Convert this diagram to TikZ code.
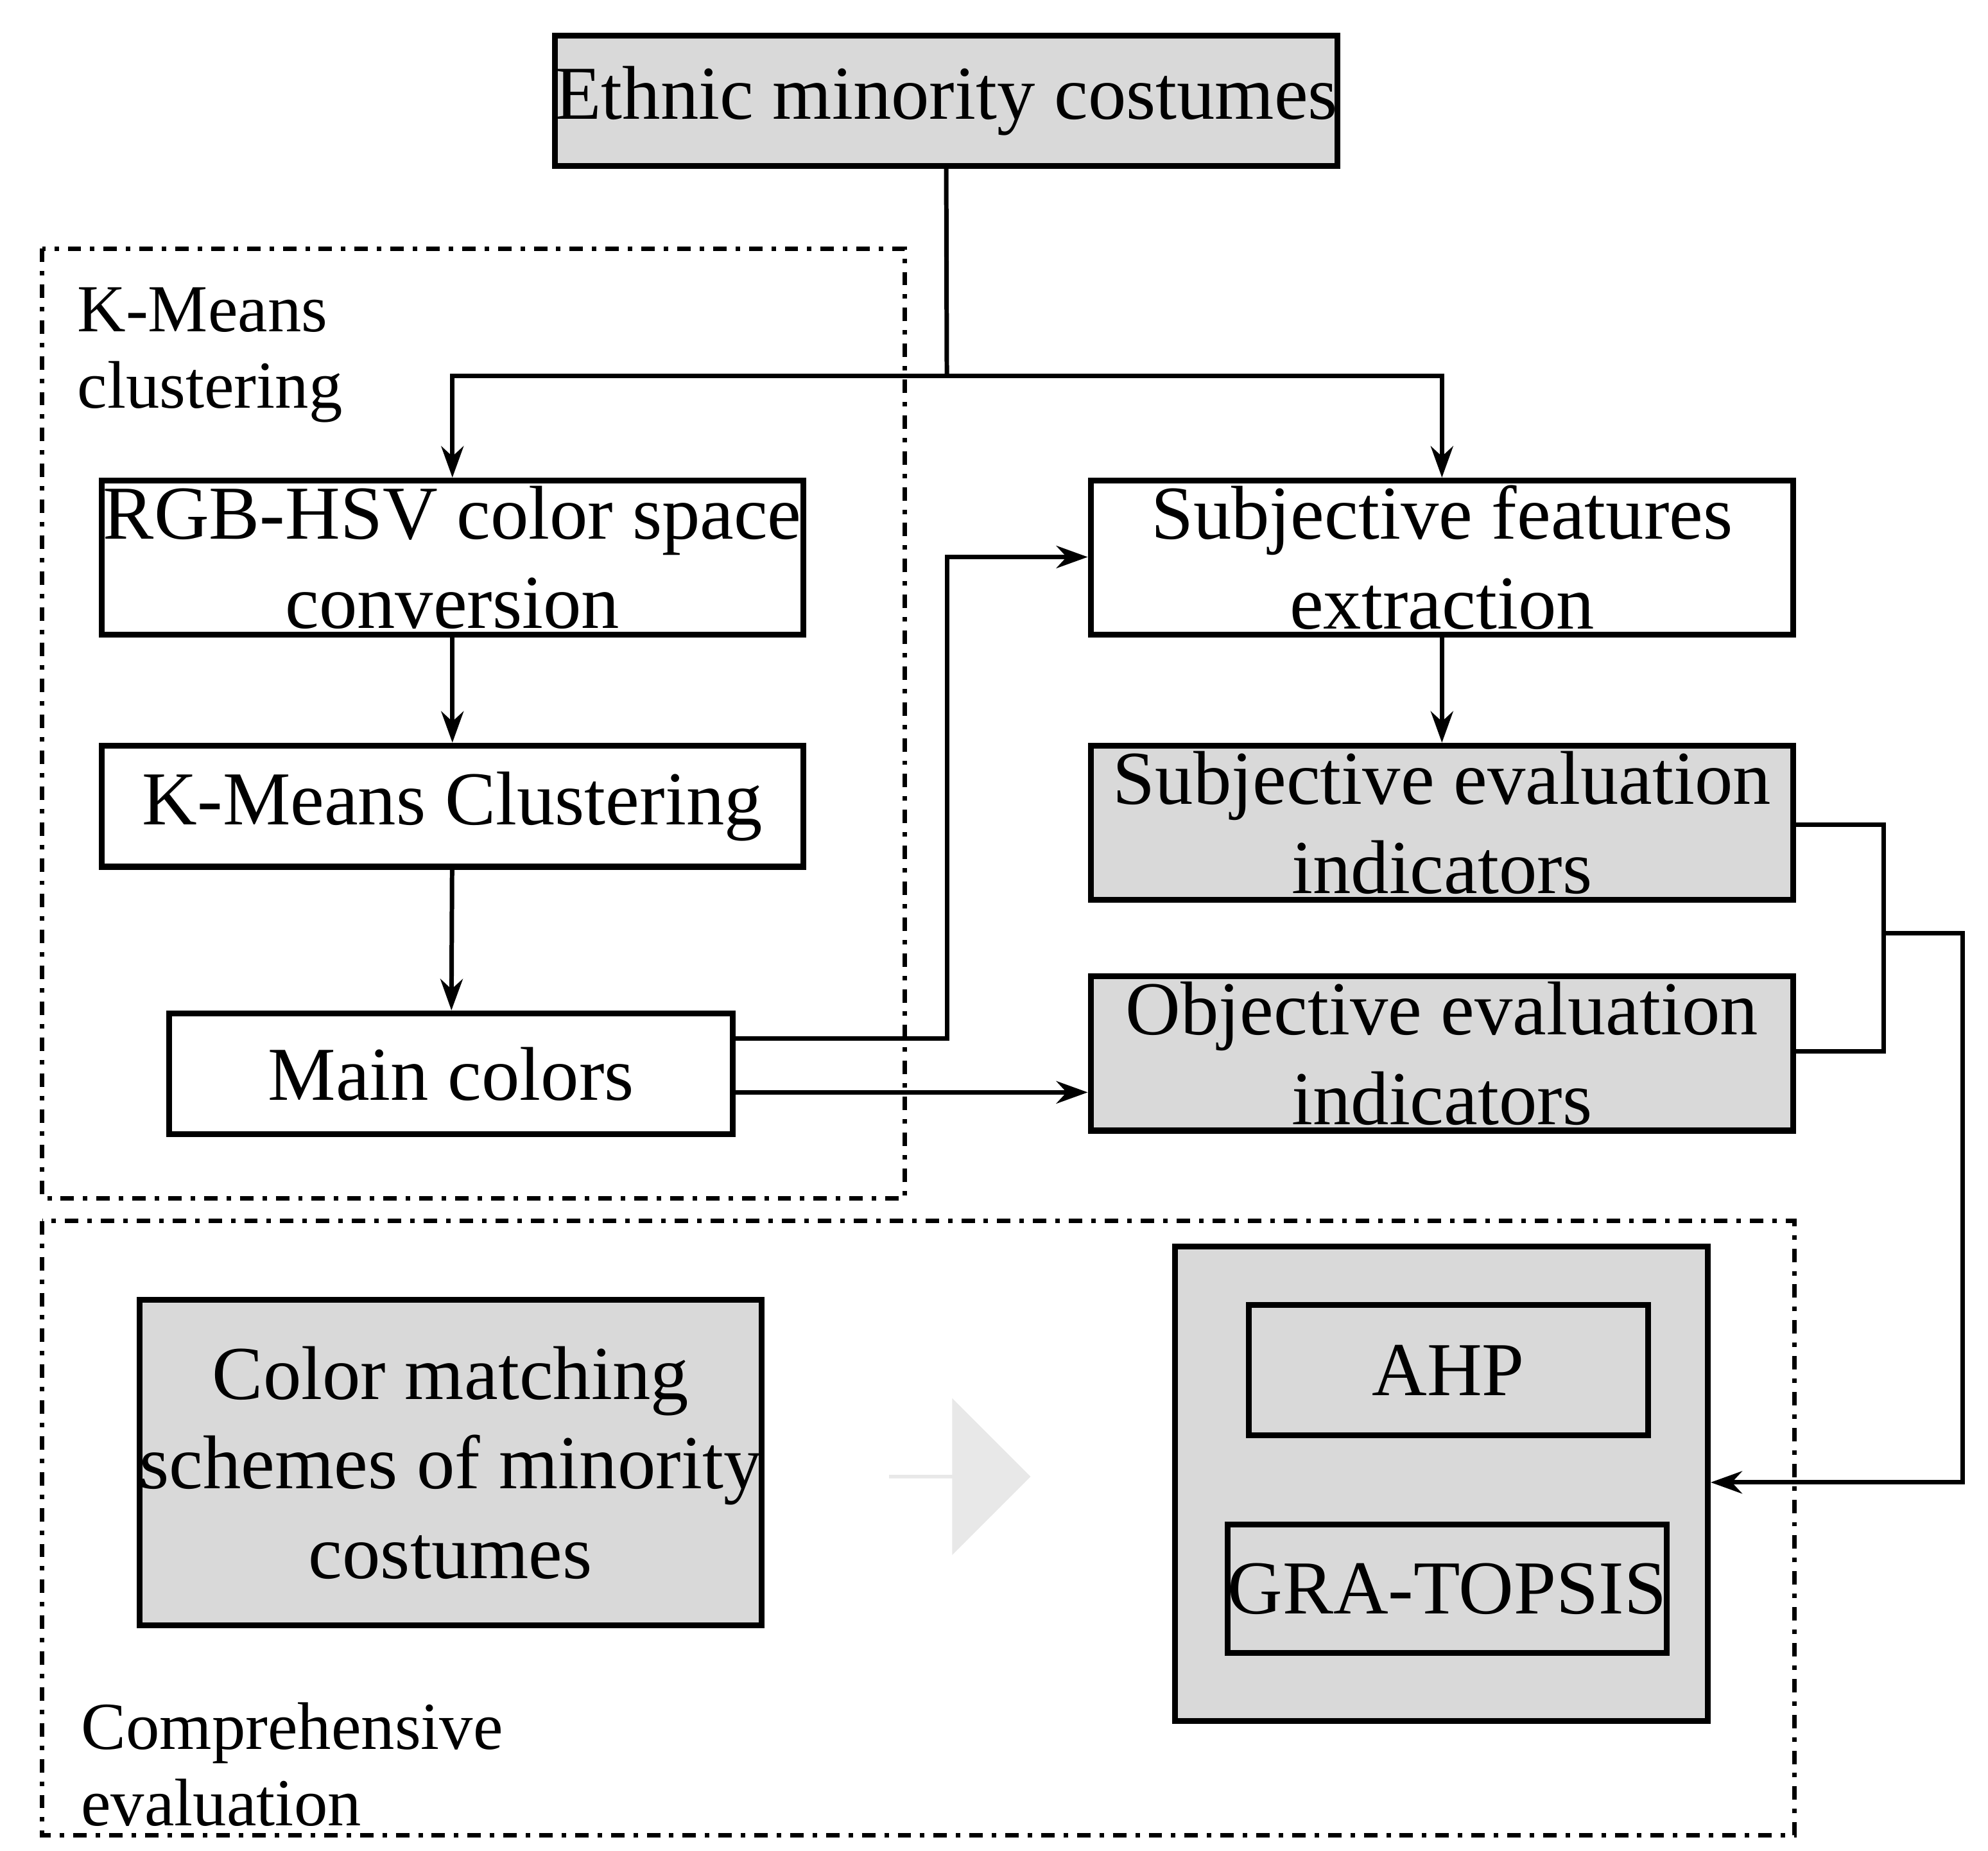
\documentclass[tikz,border=0pt]{standalone}
\usepackage{fontspec}
\setmainfont{Liberation Serif}
\usetikzlibrary{arrows.meta,shapes.arrows}
\begin{document}
\begin{tikzpicture}[x=0.01cm,y=-0.01cm,
  box/.style={draw,line width=1.3pt,inner sep=0pt,align=center,font=\fontsize{17}{20}\selectfont},
  g/.style={fill=gray!30},
  frame/.style={draw,line width=1pt,dash dot},
  lab/.style={anchor=north west,align=left,font=\fontsize{15}{17}\selectfont,inner sep=0pt},
  conn/.style={line width=1pt},
  arr/.style={conn,-{Stealth[length=7pt,width=5pt]}}]
\useasboundingbox (0,0) rectangle (1560,1452);
\draw[frame] (33,195) rectangle (710,940);
\draw[frame] (33,958) rectangle (1408,1440);
\node[lab] (l1) at (60,225) {K-Means\\clustering};
\node[lab] (l2) at (63,1335) {Comprehensive\\evaluation};
\node[box,g,minimum width=551\pgflinewidth*0+5.51cm,minimum height=1.02cm] (top) at (742.5,79) {Ethnic minority costumes};
\node[box,minimum width=5.5cm,minimum height=1.21cm] (rgb) at (355,437.5) {RGB-HSV color space\\conversion};
\node[box,minimum width=5.5cm,minimum height=0.95cm] (km) at (355,632.5) {K-Means Clustering};
\node[box,minimum width=4.42cm,minimum height=0.95cm] (mc) at (354,842.5) {Main colors};
\node[box,minimum width=5.51cm,minimum height=1.21cm] (sf) at (1131.5,437.5) {Subjective features\\extraction};
\node[box,g,minimum width=5.51cm,minimum height=1.21cm] (se) at (1131.5,645.5) {Subjective evaluation\\indicators};
\node[box,g,minimum width=5.51cm,minimum height=1.21cm] (oe) at (1131.5,826.5) {Objective evaluation\\indicators};
\node[box,g,minimum width=4.59cm,minimum height=2.55cm] (cm) at (353.5,1147.5) {Color matching\\schemes of minority\\costumes};
\node[box,g,minimum width=4.18cm,minimum height=3.72cm] (mb) at (1131,1164) {};
\node[box,g,minimum width=3.13cm,minimum height=1.02cm] (ahp) at (1136.5,1075) {AHP};
\node[box,g,minimum width=3.11cm,minimum height=1.01cm] (gra) at (1135.5,1246.5) {GRA-TOPSIS};
\node[single arrow,fill=gray!18,draw=none,minimum width=1.23cm,minimum height=1.11cm,single arrow head extend=0.3cm,inner sep=0pt] (ba) at (752.5,1158.5) {};
\coordinate (j) at (743,295);
\draw[conn] (top.south) -- (j);
\draw[arr] (j) -| (rgb.north);
\draw[arr] (j) -| (sf.north);
\draw[arr] (rgb) -- (km);
\draw[arr] (km) -- (mc);
\draw[arr] (sf) -- (se);
\draw[arr] (mc.east |- 0,815) -| (743,437) -- (sf.west |- 0,437);
\draw[arr] (mc.east |- 0,857) -- (oe.west |- 0,857);
\coordinate (m) at (1478,732);
\draw[conn] (se.east |- 0,647) -| (m);
\draw[conn] (oe.east |- 0,825) -| (m);
\draw[arr] (m) -- (1540,732) |- (mb.east |- 0,1163);
\end{tikzpicture}
\end{document}
